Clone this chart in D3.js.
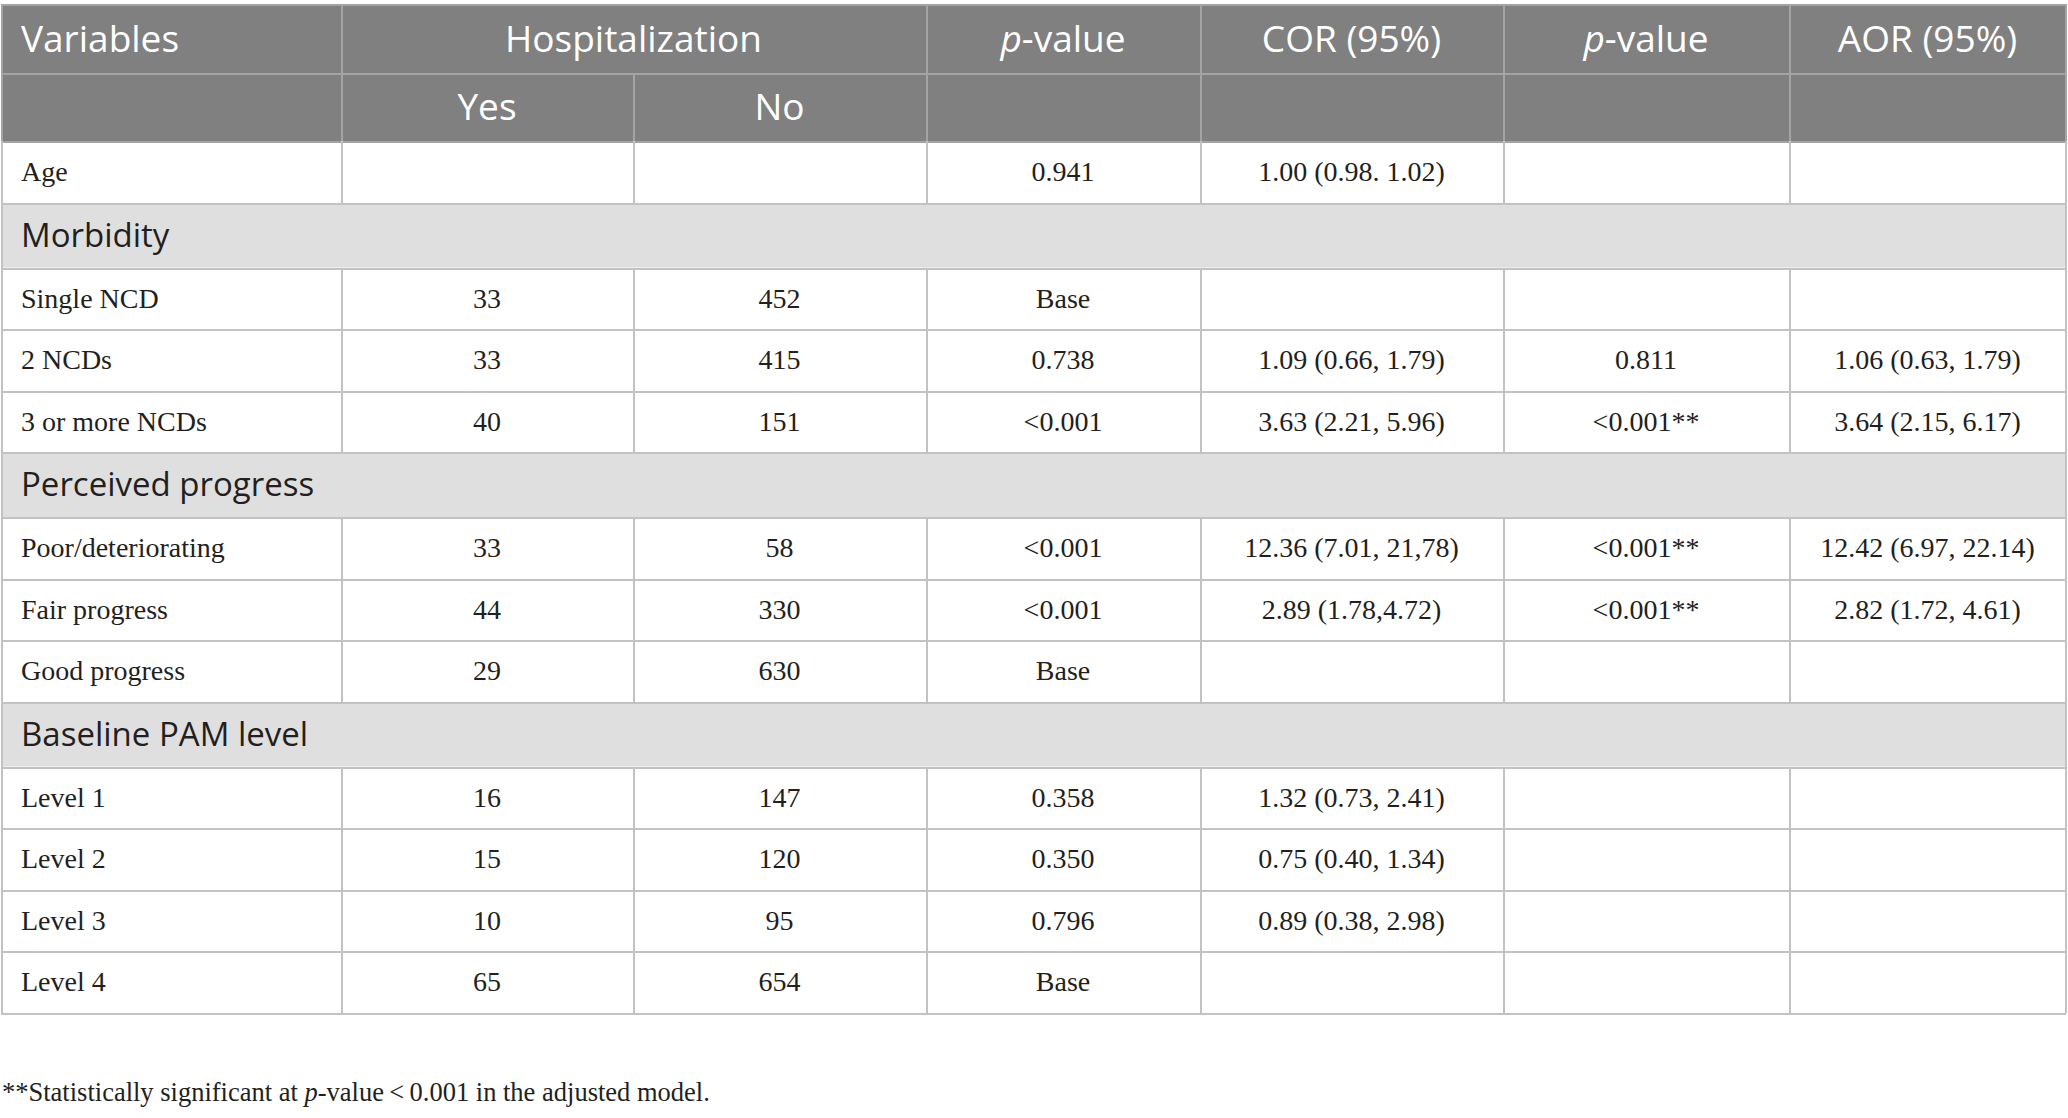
<!DOCTYPE html>
<html>
<head>
<meta charset="utf-8">
<script src="https://cdn.jsdelivr.net/npm/d3@7/dist/d3.min.js"></script>
<style>
  html, body { margin: 0; padding: 0; background: #ffffff; }
  svg { display: block; }
</style>
</head>
<body>
<svg id="chart" width="2068" height="1118"></svg>
<script>
// ---------------- DATA ----------------
const headerTop = ["Variables", "Hospitalization", "p-value", "COR (95%)", "p-value", "AOR (95%)"];
const headerSub = ["Yes", "No"];
const groups = ["Morbidity", "Perceived progress", "Baseline PAM level"];
const variables = ["Age", "Single NCD", "2 NCDs", "3 or more NCDs",
  "Poor/deteriorating", "Fair progress", "Good progress",
  "Level 1", "Level 2", "Level 3", "Level 4"];
const variableGroup = [null, 0, 0, 0, 1, 1, 1, 2, 2, 2, 2];
const hospYes = [null, 33, 33, 40, 33, 44, 29, 16, 15, 10, 65];
const hospNo = [null, 452, 415, 151, 58, 330, 630, 147, 120, 95, 654];
const pCrude = ["0.941", "Base", "0.738", "<0.001", "<0.001", "<0.001", "Base", "0.358", "0.350", "0.796", "Base"];
const cor = ["1.00 (0.98. 1.02)", "", "1.09 (0.66, 1.79)", "3.63 (2.21, 5.96)", "12.36 (7.01, 21,78)",
  "2.89 (1.78,4.72)", "", "1.32 (0.73, 2.41)", "0.75 (0.40, 1.34)", "0.89 (0.38, 2.98)", ""];
const pAdjusted = ["", "", "0.811", "<0.001**", "<0.001**", "<0.001**", "", "", "", "", ""];
const aor = ["", "", "1.06 (0.63, 1.79)", "3.64 (2.15, 6.17)", "12.42 (6.97, 22.14)", "2.82 (1.72, 4.61)",
  "", "", "", "", ""];
const footnote = ["**Statistically significant at ", "p", "-value\u2009<\u20090.001 in the adjusted model."];

// ---------------- LAYOUT ----------------
const W = 2068, H = 1118;
const colUnits = [340, 292, 293, 274, 303, 286, 277];
const rowUnits = { header: 68.5, data: 61.5, group: 64.5 };
const COLORS = {
  headerBg: "#7f807f", headerLine: "#a3a4a3", headerText: "#ffffff",
  groupBg: "#e0dfe0", line: "#c2c2c2", text: "#231f20"
};
const SANS = "'Open Sans', 'Noto Sans', sans-serif";
const SERIF = "'Liberation Serif', 'DejaVu Serif', serif";

// build row list
const rows = [];
rows.push({ type: "header" }, { type: "header" });
let lastGroup = null;
variables.forEach((v, i) => {
  const g = variableGroup[i];
  if (g !== null && g !== lastGroup) { rows.push({ type: "group", label: groups[g] }); lastGroup = g; }
  rows.push({ type: "data", index: i });
});
let acc = 0;
rows.forEach(r => { r.u0 = acc; acc += rowUnits[r.type]; r.u1 = acc; });

const colEdges = [0];
colUnits.forEach(u => colEdges.push(colEdges[colEdges.length - 1] + u));

const x = d3.scaleLinear().domain([0, colEdges[colEdges.length - 1]]).range([1, 2066]);
const y = d3.scaleLinear().domain([0, acc]).range([4, 1013]);
const colX0 = i => x(colEdges[i]);
const colX1 = i => x(colEdges[i + 1]);
const colMid = i => (colX0(i) + colX1(i)) / 2;

const svg = d3.select("#chart");

// backgrounds
const headerY0 = y(rows[0].u0), headerY1 = y(rows[1].u1);
svg.append("rect").attr("x", x(0)).attr("y", headerY0)
  .attr("width", x(colEdges[7]) - x(0)).attr("height", headerY1 - headerY0)
  .attr("fill", COLORS.headerBg);

svg.selectAll("rect.grp").data(rows.filter(r => r.type === "group")).join("rect")
  .attr("class", "grp")
  .attr("x", x(0)).attr("y", d => y(d.u0))
  .attr("width", x(colEdges[7]) - x(0)).attr("height", d => y(d.u1) - y(d.u0))
  .attr("fill", COLORS.groupBg);

// grid lines
const lines = svg.append("g").attr("shape-rendering", "crispEdges");
const hBounds = [];
rows.forEach((r, i) => { if (i === 0) hBounds.push({ v: r.u0, hdr: true }); hBounds.push({ v: r.u1, hdr: r.type === "header" }); });
lines.selectAll("line.h").data(hBounds).join("line")
  .attr("x1", x(0)).attr("x2", x(colEdges[7]))
  .attr("y1", d => Math.round(y(d.v)) + 0.5).attr("y2", d => Math.round(y(d.v)) + 0.5)
  .attr("stroke", d => d.hdr ? COLORS.headerLine : COLORS.line).attr("stroke-width", 2);

const vSegs = [];
rows.forEach((r, ri) => {
  if (r.type === "group") {
    [0, 7].forEach(c => vSegs.push({ c, r, hdr: false }));
  } else {
    for (let c = 0; c <= 7; c++) {
      if (ri === 0 && c === 2) continue; // Hospitalization spans two columns
      vSegs.push({ c, r, hdr: r.type === "header" });
    }
  }
});
lines.selectAll("line.v").data(vSegs).join("line")
  .attr("x1", d => Math.round(x(colEdges[d.c])) + (d.c === 7 ? -0.5 : 0.5))
  .attr("x2", d => Math.round(x(colEdges[d.c])) + (d.c === 7 ? -0.5 : 0.5))
  .attr("y1", d => y(d.r.u0)).attr("y2", d => y(d.r.u1))
  .attr("stroke", d => d.hdr ? COLORS.headerLine : COLORS.line).attr("stroke-width", 2);

// header text
const HFS = 37;
const rowMid = r => (y(r.u0) + y(r.u1)) / 2;
const h1 = rows[0], h2 = rows[1];
const headerCells = [
  { text: headerTop[0], x: x(colEdges[0]) + 20, anchor: "start" },
  { text: headerTop[1], x: (colX0(1) + colX1(2)) / 2, anchor: "middle" },
  { text: headerTop[2], x: colMid(3), anchor: "middle" },
  { text: headerTop[3], x: colMid(4), anchor: "middle" },
  { text: headerTop[4], x: colMid(5), anchor: "middle" },
  { text: headerTop[5], x: colMid(6), anchor: "middle" }
];
const ht = svg.selectAll("text.h1").data(headerCells).join("text")
  .attr("class", "h1")
  .attr("x", d => d.x).attr("y", rowMid(h1) + 0.357 * HFS)
  .attr("text-anchor", d => d.anchor)
  .attr("font-family", SANS).attr("font-size", HFS).attr("fill", COLORS.headerText);
ht.each(function (d) {
  const t = d3.select(this);
  if (d.text.startsWith("p-")) {
    t.append("tspan").attr("font-style", "italic").text("p");
    t.append("tspan").text(d.text.slice(1));
  } else t.text(d.text);
});
svg.selectAll("text.h2").data(headerSub).join("text")
  .attr("class", "h2")
  .attr("x", (d, i) => colMid(1 + i)).attr("y", rowMid(h2) + 0.357 * HFS)
  .attr("text-anchor", "middle")
  .attr("font-family", SANS).attr("font-size", HFS).attr("fill", COLORS.headerText)
  .text(d => d);

// group labels
const GFS = 33;
svg.selectAll("text.grp").data(rows.filter(r => r.type === "group")).join("text")
  .attr("class", "grp")
  .attr("x", x(0) + 20).attr("y", d => rowMid(d) + 0.357 * GFS)
  .attr("font-family", SANS).attr("font-size", GFS).attr("fill", COLORS.text)
  .text(d => d.label);

// data cells
const BFS = 28;
const dataRows = rows.filter(r => r.type === "data");
const cellData = [];
dataRows.forEach(r => {
  const i = r.index;
  const vals = [variables[i], hospYes[i], hospNo[i], pCrude[i], cor[i], pAdjusted[i], aor[i]];
  vals.forEach((v, c) => {
    if (v === null || v === "") return;
    cellData.push({ r, c, v: String(v) });
  });
});
svg.selectAll("text.cell").data(cellData).join("text")
  .attr("class", "cell")
  .attr("x", d => d.c === 0 ? x(colEdges[0]) + 20 : colMid(d.c))
  .attr("y", d => rowMid(d.r) + 0.33 * BFS)
  .attr("text-anchor", d => d.c === 0 ? "start" : "middle")
  .attr("font-family", SERIF).attr("font-size", BFS).attr("fill", COLORS.text)
  .text(d => d.v);

// footnote
const fn = svg.append("text")
  .attr("x", 2).attr("y", 1101)
  .attr("font-family", SERIF).attr("font-size", 26.5).attr("fill", COLORS.text);
fn.append("tspan").text(footnote[0]);
fn.append("tspan").attr("font-style", "italic").text(footnote[1]);
fn.append("tspan").text(footnote[2]);
</script>
</body>
</html>
